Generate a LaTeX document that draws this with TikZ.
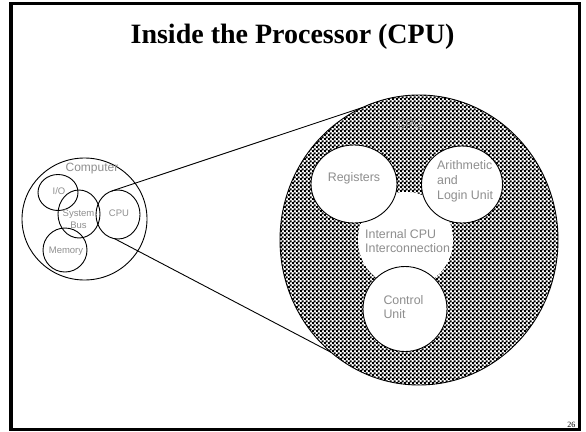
\documentclass[tikz,border=0pt]{standalone}
\usepackage{fontspec}
\setmainfont{Liberation Serif}
\setsansfont{Liberation Sans}
\usetikzlibrary{shapes.geometric,patterns}

% fine two-point checkerboard used for the processor body
\pgfdeclarepatternformonly{cpuchecks}{\pgfqpoint{0pt}{0pt}}{\pgfqpoint{4pt}{4pt}}{\pgfqpoint{4pt}{4pt}}{%
  \pgfpathrectangle{\pgfqpoint{0pt}{0pt}}{\pgfqpoint{2.4pt}{2.4pt}}%
  \pgfpathrectangle{\pgfqpoint{2pt}{2pt}}{\pgfqpoint{2.4pt}{2.4pt}}%
  \pgfusepath{fill}}

\definecolor{labelgray}{RGB}{142,142,142}

\begin{document}
\begin{tikzpicture}[x=1pt,y=-1pt,
  ring/.style={ellipse, draw=black, line width=0.9pt, inner sep=0pt, outer sep=0pt},
  part/.style={ring, fill=white},
  bigtext/.style={font=\sffamily\fontsize{12.4}{15}\selectfont, text=labelgray, inner sep=0pt},
  smalltext/.style={font=\sffamily\fontsize{9.5}{11.5}\selectfont, text=labelgray, inner sep=0pt}]
\useasboundingbox (0,0) rectangle (586,431);

% slide frame
\draw[line width=3.2pt] (11,3.5) rectangle (579.3,429.7);

% title
\node[font=\fontsize{28}{32}\selectfont\bfseries, anchor=base, inner sep=0pt] (title) at (292.5,43.3) {Inside the Processor (CPU)};

% computer overview
\node[ring, minimum width=125pt, minimum height=122pt] (computer) at (84.5,219) {};
\node[ring, minimum width=40pt, minimum height=36pt] (io) at (58,192.5) {};
\node[ring, minimum width=42pt, minimum height=48pt] (bus) at (79,214) {};
\node[ring, minimum width=44pt, minimum height=49pt] (cpu) at (118,214.5) {};
\node[ring, minimum width=44pt, minimum height=44pt] (memory) at (65,250) {};

\node[bigtext, font=\sffamily\fontsize{12}{14}\selectfont, anchor=base] (computerlbl) at (92,171) {Computer};
\node[smalltext, anchor=base] (iolbl) at (59,194.3) {I/O};
% multi-line labels are placed by the baseline of their last line
\node[smalltext, anchor=base, align=center] (buslbl) at (78.5,228.3) {System\\Bus};
\node[smalltext, anchor=base] (cpulbl) at (119,216.7) {CPU};
\node[smalltext, anchor=base] (memorylbl) at (66,253.3) {Memory};

% enlarged processor
\node[ring, pattern=cpuchecks, minimum width=278pt, minimum height=290pt] (cpuouter) at (419,240) {};
\node[bigtext, anchor=base] (cpuouterlbl) at (410,128) {CPU};

\draw[line width=0.9pt] (cpu.105) -- (cpuouter.113);
\draw[line width=0.9pt] (cpu.262) -- (cpuouter.232);

\node[ellipse, fill=white, inner sep=0pt, minimum width=95pt, minimum height=96pt] (interconnect) at (405.5,240) {};
\node[part, minimum width=86pt, minimum height=78pt] (registers) at (354,184) {};
\node[part, minimum width=81pt, minimum height=77pt] (alu) at (462,184.5) {};
\node[part, minimum width=84pt, minimum height=85pt] (control) at (405,309) {};

\node[bigtext, anchor=base] (registerslbl) at (354,181.7) {Registers};
\node[bigtext, anchor=base west, align=left] (alulbl) at (437,199) {Arithmetic\\and\\Login Unit};
\node[bigtext, anchor=base west, align=left, font=\sffamily\fontsize{12.4}{14}\selectfont] (interconnectlbl) at (365,252.3) {Internal CPU\\Interconnection};
\node[bigtext, anchor=base west, align=left, font=\sffamily\fontsize{12.4}{13.5}\selectfont] (controllbl) at (383.3,318.3) {Control\\Unit};

% page number
\node[font=\fontsize{8}{9}\selectfont, anchor=base east, inner sep=0pt] (pagenum) at (575.5,427) {26};
\end{tikzpicture}
\end{document}
